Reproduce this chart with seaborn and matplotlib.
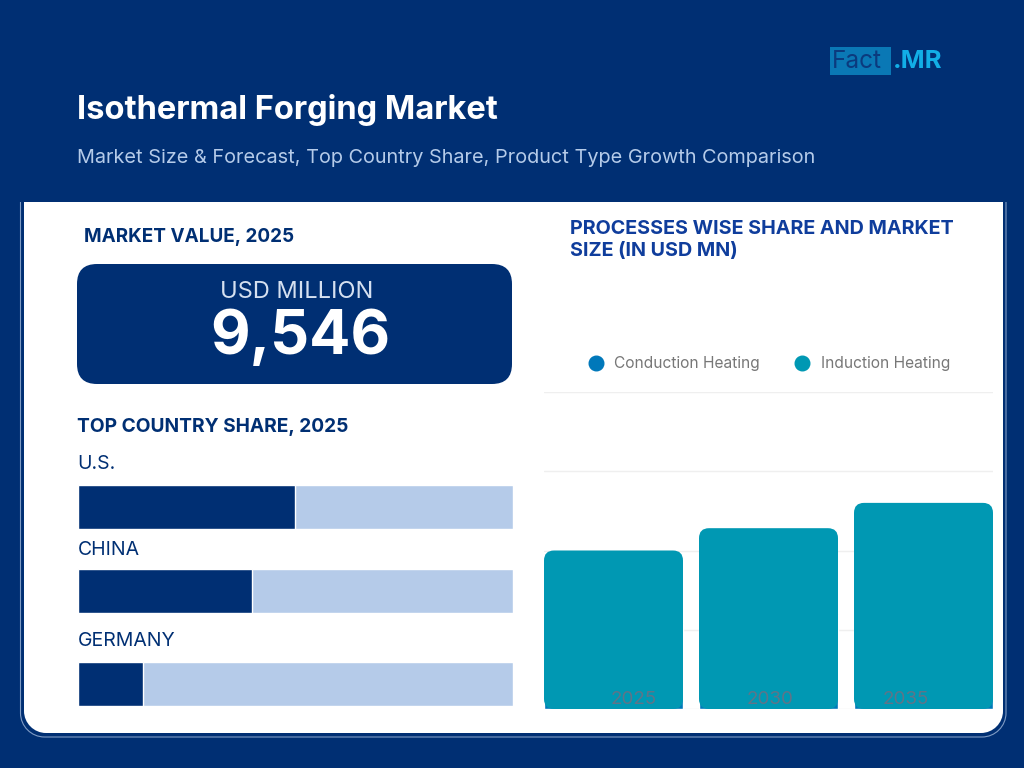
import numpy as np
import pandas as pd
import matplotlib
matplotlib.use("Agg")
import matplotlib.pyplot as plt
from matplotlib.lines import Line2D
from matplotlib.patches import FancyBboxPatch, Rectangle, PathPatch
from matplotlib.path import Path
import seaborn as sns

# data
years = ["2025", "2030", "2035"]
conduction = [5150, 5725, 6466]
induction = [4396, 5165, 5948]
grid_ticks = [0, 4773, 9546, 14319, 19092]
countries = ["U.S.", "CHINA", "GERMANY"]
country_share = [50, 40, 15]
full_share = [100, 100, 100]

NAVY = "#002F73"
LIGHT_BAR = "#B5CBE9"
BLUE = "#0078BA"
TEAL = "#0098B3"
W, H = 1024, 768

sns.set_theme(style="white")
plt.rcParams["font.family"] = ["Inter", "DejaVu Sans"]

fig = plt.figure(figsize=(W / 100, H / 100), dpi=100, facecolor=NAVY)


def px_axes(left, top, right, bottom):
    return fig.add_axes([left / W, 1 - bottom / H, (right - left) / W, (bottom - top) / H])


def label(x, y, s, size, **kw):
    kw.setdefault("va", "center")
    return fig.text(x / W, 1 - y / H, s, fontsize=size, **kw)


# background card, drawn in pixel coords
bg = fig.add_axes([0, 0, 1, 1])
bg.set_xlim(0, W)
bg.set_ylim(H, 0)
bg.axis("off")


def card_path(l, t, r, b, rad):
    k = 0.45 * rad
    verts = [(l, t), (l, b - rad), (l, b - k), (l + k, b), (l + rad, b),
             (r - rad, b), (r - k, b), (r, b - k), (r, b - rad), (r, t)]
    codes = [Path.MOVETO, Path.LINETO, Path.CURVE4, Path.CURVE4, Path.CURVE4,
             Path.LINETO, Path.CURVE4, Path.CURVE4, Path.CURVE4, Path.LINETO]
    return Path(verts, codes)


bg.add_patch(PathPatch(card_path(20.5, 202, 1006, 737, 24), fc="none", ec="#7F9BC4", lw=0.8))
bg.add_patch(PathPatch(card_path(24, 202, 1003, 733, 22), fc="white", ec="none"))
bg.add_patch(FancyBboxPatch((77, 264), 435, 120, boxstyle="round,pad=0,rounding_size=20",
                            fc=NAVY, ec="none"))
bg.add_patch(Rectangle((830, 47), 61, 28, fc="#0A78B5", ec="none"))

# header
label(77, 110, "Isothermal Forging Market", 23.5, color="white", fontweight="bold")
label(77, 158, "Market Size & Forecast, Top Country Share, Product Type Growth Comparison",
      14.3, color="#B5CBE9")
label(832, 61, "Fact", 17.5, color="#0B3A7E")
label(893, 61, ".MR", 18.5, color="#12AEE6", fontweight="bold")

# left column
label(84, 237, "MARKET VALUE, 2025", 13.6, color=NAVY, fontweight="bold")
label(297, 292, "USD MILLION", 17, color="#D5E0F0", ha="center")
label(300, 338, "9,546", 44, color="white", fontweight="bold", ha="center")
label(77, 427, "TOP COUNTRY SHARE, 2025", 13.8, color=NAVY, fontweight="bold")

# country share bars, spacing is uneven so each one gets its own axes
bar_tops = [485, 569, 662]
label_ys = [464, 550, 641]
for i, name in enumerate(countries):
    ax = px_axes(77.5, bar_tops[i], 513, bar_tops[i] + 43.5)
    sns.barplot(x=[full_share[i]], y=[name], color=LIGHT_BAR, width=1, saturation=1, ax=ax)
    sns.barplot(x=[country_share[i]], y=[name], color=NAVY, width=1, saturation=1, ax=ax)
    ax.set_xlim(0, 100)
    ax.set_ylim(0.5, -0.5)
    ax.axis("off")
    label(77.5, label_ys[i], name, 14, color=NAVY)

# right column
label(570, 240, "PROCESSES WISE SHARE AND MARKET\nSIZE (IN USD MN)", 14.2, color="#0F3D9C",
      fontweight="bold", linespacing=1.25)

ax = px_axes(544, 392, 993, 709)
df = pd.DataFrame({"year": years, "conduction": conduction, "induction": induction})
df["total"] = df["conduction"] + df["induction"]

sns.barplot(data=df, x="year", y="total", color=TEAL, width=139 / 155, saturation=1, ax=ax)
n_top = len(ax.patches)
sns.barplot(data=df, x="year", y="conduction", color=BLUE, width=139 / 155, saturation=1, ax=ax)
ax.set_xlim(-139 / 310, 2 + 139 / 310)
ax.set_ylim(grid_ticks[0], grid_ticks[-1])
ax.set_yticks(grid_ticks)
ax.grid(axis="y", color="#EFEFEF", lw=1)
ax.set_axisbelow(True)
ax.set_xticks([])
ax.set_yticklabels([])
ax.set_xlabel("")
ax.set_ylabel("")
sns.despine(ax=ax, left=True, bottom=True)

# round the top corners of the stack; the lower corners sit under the conduction bar
x_unit = 155
y_unit = 317 / grid_ticks[-1]
r = 10 / x_unit
for p in list(ax.patches[:n_top]):
    rounded = FancyBboxPatch((p.get_x(), p.get_y()), p.get_width(), p.get_height(),
                             boxstyle=f"round,pad=0,rounding_size={r}",
                             mutation_aspect=(10 / y_unit) / r, fc=TEAL, ec="none", zorder=p.get_zorder())
    p.remove()
    ax.add_patch(rounded)
for p in ax.patches[-3:]:
    p.set_zorder(3)

# year labels sit off-centre in the source, on top of the bars
year_xs = [633.5, 770, 906]
for x, yr in zip(year_xs, years):
    label(x, 700, yr, 13.5, color="#5F7488", ha="center")

handles = [Line2D([], [], marker="o", ls="", ms=10.5, color=BLUE, label="Conduction Heating"),
           Line2D([], [], marker="o", ls="", ms=10.5, color=TEAL, label="Induction Heating")]
leg = fig.legend(handles=handles, ncol=2, frameon=False, fontsize=11.2, labelcolor="#777777",
                 loc="center", bbox_to_anchor=(765 / W, 1 - 364 / H),
                 handletextpad=0.2, columnspacing=1.7)

fig.savefig("out.png", dpi=100, facecolor=NAVY)
